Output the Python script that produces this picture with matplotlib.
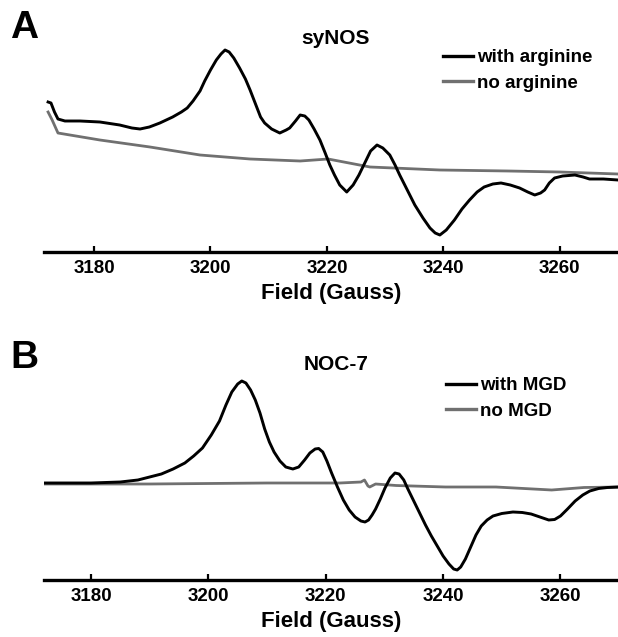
import matplotlib
matplotlib.use("Agg")
import matplotlib.pyplot as plt
from matplotlib.lines import Line2D

plt.rcParams['font.family'] = ['Liberation Sans', 'DejaVu Sans']
plt.rcParams['font.weight'] = 'bold'

# ---------------- Data (field in Gauss, signal in arbitrary units) -------------
# Panel A: syNOS
a_field_with = [3172.1, 3172.6, 3173.2, 3173.8, 3175.0, 3177.6, 3181.0, 3184.4, 3186.5,
                3187.9, 3189.5, 3191.3, 3193.5, 3195.0, 3196.0, 3197.0, 3198.2, 3199.0,
                3200.0, 3201.0, 3201.8, 3202.5, 3203.2, 3204.0, 3205.0, 3206.0, 3206.8,
                3207.8, 3208.6, 3209.3, 3210.5, 3211.9, 3213.0, 3213.6, 3214.6, 3215.4,
                3216.2, 3216.9, 3217.8, 3218.8, 3219.7, 3220.5, 3221.3, 3222.2, 3223.4,
                3224.5, 3225.5, 3226.5, 3227.5, 3228.6, 3229.6, 3230.8, 3231.7, 3232.5,
                3233.8, 3235.1, 3236.5, 3237.7, 3238.6, 3239.4, 3240.5, 3241.9, 3243.2,
                3244.5, 3245.8, 3247.0, 3248.5, 3249.9, 3251.5, 3253.1, 3254.5, 3255.7,
                3256.7, 3257.4, 3258.2, 3259.1, 3260.5, 3262.6, 3264.0, 3265.1, 3267.5,
                3270.0]
a_sig_with = [73, 72, 63, 56, 54, 54, 53, 50, 47,
              46, 48, 52, 58, 63, 67, 74, 84, 94,
              105, 115, 121, 125, 123, 117, 107, 96, 85,
              70, 58, 52, 46, 42, 45, 47, 54, 60,
              59, 55, 46, 35, 22, 10, 0, -10, -17,
              -10, 0, 12, 24, 30, 27, 20, 10, 0,
              -15, -30, -43, -53, -58, -60, -55, -45, -34,
              -25, -17, -12, -9, -8, -10, -13, -17, -20,
              -18, -15, -8, -3, -1, 0, -2, -4, -4,
              -5]
a_field_no = [3172.1, 3172.8, 3173.8, 3181.0, 3189.6, 3198.2, 3206.8, 3215.4, 3220.2,
              3227.4, 3239.4, 3251.1, 3260.0, 3270.0]
a_sig_no = [63, 55, 42, 35, 28, 20, 16, 14, 16,
            8, 5, 4, 3, 1]

# Panel B: NOC-7
b_field_with = [3172.0, 3180.0, 3185.0, 3188.0, 3190.0, 3192.0, 3194.0, 3196.0, 3197.5,
                3199.0, 3200.5, 3201.9, 3203.0, 3204.0, 3205.0, 3205.7, 3206.4, 3207.2,
                3208.0, 3208.8, 3209.6, 3210.4, 3211.2, 3212.2, 3213.2, 3214.4, 3215.4,
                3216.4, 3217.3, 3218.2, 3218.8, 3219.5, 3220.2, 3221.0, 3222.0, 3223.0,
                3224.0, 3225.0, 3226.0, 3226.7, 3227.3, 3227.9, 3228.5, 3229.3, 3230.1,
                3231.0, 3231.8, 3232.5, 3233.3, 3234.0, 3235.0, 3236.0, 3237.0, 3238.0,
                3239.0, 3240.0, 3241.0, 3241.8, 3242.4, 3243.0, 3243.8, 3244.7, 3245.6,
                3246.5, 3247.5, 3248.5, 3250.0, 3251.9, 3253.5, 3255.0, 3256.5, 3258.0,
                3259.0, 3260.0, 3261.2, 3262.5, 3263.8, 3265.0, 3266.5, 3268.0, 3269.9]
b_sig_with = [2, 2, 3, 5, 8, 11, 16, 22, 29,
              37, 50, 64, 80, 93, 101, 104, 102, 95,
              85, 72, 56, 43, 33, 24, 18, 16, 18,
              25, 32, 36, 36.5, 33, 24, 12, -2, -15,
              -25, -32, -36, -37, -35, -30, -24, -14, -3,
              7, 12, 11, 5, -4, -16, -28, -40, -51,
              -61, -71, -79, -84, -85, -82, -74, -62, -50,
              -41, -35, -31, -28.5, -27, -27.5, -29, -32, -35,
              -34.5, -31, -24, -16, -10, -6, -3.5, -2.5, -2]
b_field_no = [3172.0, 3190.0, 3210.0, 3217.0, 3222.4, 3226.0, 3226.6, 3227.2, 3227.5,
              3228.5, 3232.0, 3240.4, 3249.0, 3258.5, 3264.0, 3270.0]
b_sig_no = [1, 1, 2, 2, 2, 3, 5, -1, -2,
            1, -0.5, -2, -2, -5, -2.5, -2]

ticks = [3180, 3200, 3220, 3240, 3260]

BLACK = '#000000'
GRAY = '#707070'

W, H = 618, 637
fig = plt.figure(figsize=(W / 100, H / 100), dpi=100)


def fx(px):
    return px / W


def fy(py):
    return 1 - py / H


def make_panel(ax_bottom_px, ax_top_px, xlim, ylim, fw, sw, fn, sn, lab_w, lab_n,
               title, title_y, letter, letter_y, leg_x, leg_top):
    ax = fig.add_axes([fx(44), fy(ax_bottom_px), fx(618) - fx(44),
                       fy(ax_top_px) - fy(ax_bottom_px)])
    ax.plot(fn, sn, color=GRAY, lw=2.0, solid_joinstyle='round', label=lab_n, zorder=2)
    ax.plot(fw, sw, color=BLACK, lw=2.1, solid_joinstyle='round', label=lab_w, zorder=3)
    ax.set_xlim(*xlim)
    ax.set_ylim(*ylim)
    for s in ['top', 'right', 'left']:
        ax.spines[s].set_visible(False)
    ax.spines['bottom'].set_linewidth(2.4)
    ax.set_yticks([])
    ax.set_xticks(ticks)
    ax.tick_params(axis='x', direction='in', length=4, width=1.6, pad=6,
                   labelsize=13.5)
    for t in ax.get_xticklabels():
        t.set_fontweight('bold')
    ax.set_xlabel('Field (Gauss)', fontsize=16, fontweight='bold', labelpad=4)
    fig.text(fx(336), fy(title_y), title, ha='center', va='center',
             fontsize=15, fontweight='bold')
    fig.text(fx(24), fy(letter_y), letter, ha='center', va='center',
             fontsize=28, fontweight='bold')
    handles = [Line2D([], [], color=BLACK, lw=2.4), Line2D([], [], color=GRAY, lw=2.4)]
    fig.legend(handles, [lab_w, lab_n], loc='upper left',
               bbox_to_anchor=(fx(leg_x), fy(leg_top)), bbox_transform=fig.transFigure,
               frameon=False, handlelength=1.6, handletextpad=0.2,
               borderpad=0, borderaxespad=0, labelspacing=0.45,
               prop={'weight': 'bold', 'size': 13.5})
    return ax


axA = make_panel(252, 40, (3171.4, 3270.0), (-77, 135),
                 a_field_with, a_sig_with, a_field_no, a_sig_no,
                 'with arginine', 'no arginine', 'syNOS', 38, 'A', 28,
                 443, 49)
axB = make_panel(580, 360, (3172.0, 3269.8), (-95, 125),
                 b_field_with, b_sig_with, b_field_no, b_sig_no,
                 'with MGD', 'no MGD', 'NOC-7', 365, 'B', 358,
                 446, 377)

fig.savefig('out.png', dpi=100)
